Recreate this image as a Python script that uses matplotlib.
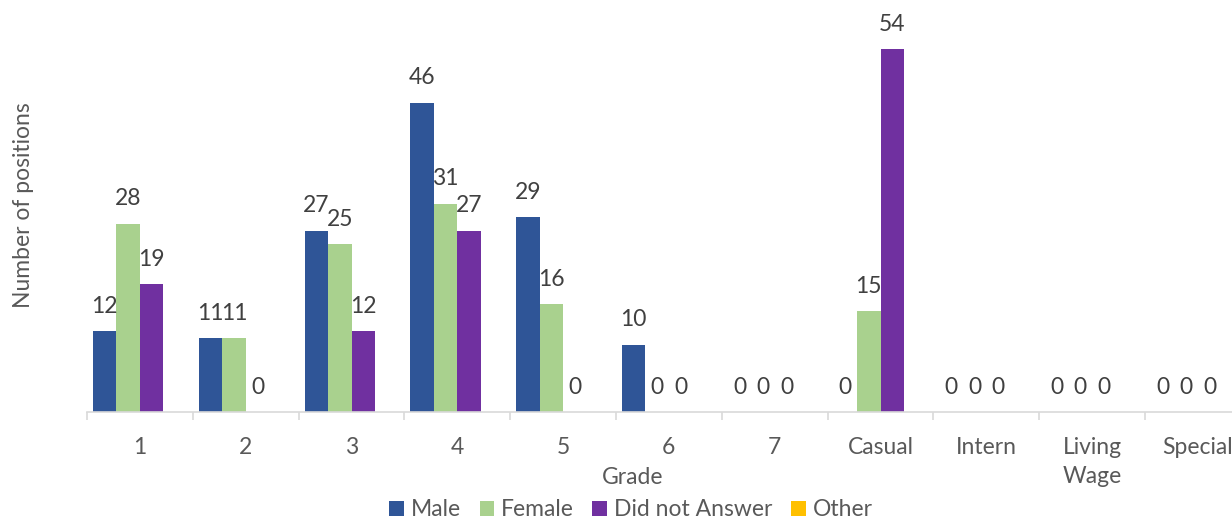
import matplotlib
matplotlib.use("Agg")
import matplotlib.pyplot as plt
import numpy as np

categories = ["1", "2", "3", "4", "5", "6", "7", "Casual", "Intern", "Living\nWage", "Special"]
male = [12, 11, 27, 46, 29, 10, 0, 0, 0, 0, 0]
female = [28, 11, 25, 31, 16, 0, 0, 15, 0, 0, 0]
did_not_answer = [19, 0, 12, 27, 0, 0, 0, 54, 0, 0, 0]
other = [0, 0, 0, 0, 0, 0, 0, 0, 0, 0, 0]

series = [
    ("Male", male, "#2F5597", True),
    ("Female", female, "#A9D18E", True),
    ("Did not Answer", did_not_answer, "#7030A0", True),
    ("Other", other, "#FFC000", False),
]

plt.rcParams["font.family"] = ["Lato", "DejaVu Sans"]
FS = 16.5

W, H = 1232, 522
fig = plt.figure(figsize=(W / 100, H / 100), dpi=100)

ymax = 58.0
px_per_unit = 6.72
left_px, right_px, base_px = 87, 87 + 11 * 105.8, 412
ax = fig.add_axes([left_px / W, (H - base_px) / H,
                   (right_px - left_px) / W, ymax * px_per_unit / H])

x = np.arange(len(categories))
bw = 0.222
for i, (name, vals, color, labelled) in enumerate(series):
    pos = x + (i - 1.5) * bw
    bars = ax.bar(pos, vals, width=bw, color=color, label=name, zorder=2)
    if labelled:
        for b, v in zip(bars, vals):
            ax.annotate(f"{v}", (b.get_x() + b.get_width() / 2, v),
                        xytext=(0, 18), textcoords="offset points",
                        ha="center", va="center", fontsize=FS, color="#404040")

ax.set_xlim(-0.5, len(categories) - 0.5)
ax.set_ylim(0, ymax)
ax.set_yticks([])
for s in ["top", "right", "left"]:
    ax.spines[s].set_visible(False)
ax.spines["bottom"].set_color("#D9D9D9")
ax.spines["bottom"].set_linewidth(1.2)

ax.set_xticks(x)
ax.set_xticklabels(categories, fontsize=FS, color="#595959", linespacing=1.45)
ax.tick_params(axis="x", which="major", length=0, pad=18)
ax.set_xticks(np.arange(-0.5, len(categories), 1.0), minor=True)
ax.tick_params(axis="x", which="minor", length=6, color="#D9D9D9", width=1.2)

fig.text(633 / W, 1 - 478 / H, "Grade", ha="center", va="center",
         fontsize=FS, color="#595959")
fig.text(24 / W, 1 - 205 / H, "Number of positions", ha="center", va="center",
         rotation=90, fontsize=FS, color="#595959")

fig.legend(loc="center", bbox_to_anchor=(631 / W, 1 - 510 / H), ncol=4,
           frameon=False, fontsize=FS, labelcolor="#595959",
           handlelength=0.65, handleheight=0.65, handletextpad=0.3,
           columnspacing=0.8, borderaxespad=0)

fig.savefig("out.png", dpi=100)
